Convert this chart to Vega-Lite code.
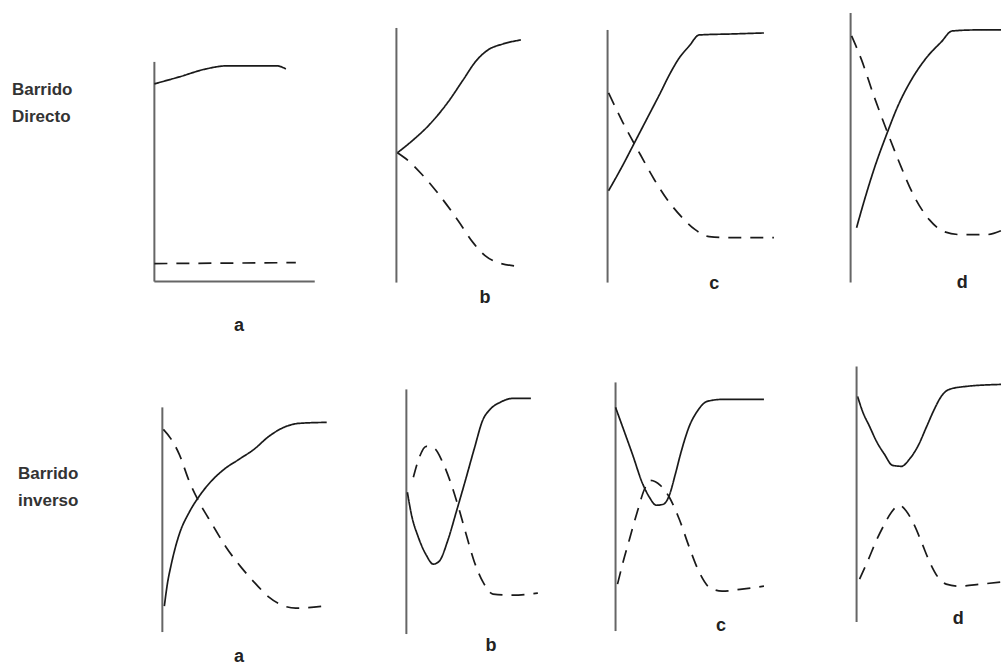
{
  "$schema": "https://vega.github.io/schema/vega-lite/v6.json",
  "autosize": {"type": "fit", "contains": "padding"},
  "width": 1005,
  "height": 666,
  "padding": 0,
  "background": "white",
  "config": {"view": {"stroke": null}},
  "datasets": {
    "curvas": [
      {"curva": "Directo-a-continuo", "trazo": "continuo", "x": 155, "y": 84},
      {"curva": "Directo-a-continuo", "trazo": "continuo", "x": 180, "y": 77},
      {"curva": "Directo-a-continuo", "trazo": "continuo", "x": 207, "y": 69},
      {"curva": "Directo-a-continuo", "trazo": "continuo", "x": 227, "y": 66},
      {"curva": "Directo-a-continuo", "trazo": "continuo", "x": 278, "y": 66},
      {"curva": "Directo-a-continuo", "trazo": "continuo", "x": 287, "y": 69},
      {"curva": "Directo-a-discontinuo", "trazo": "discontinuo", "x": 155, "y": 264},
      {"curva": "Directo-a-discontinuo", "trazo": "discontinuo", "x": 297, "y": 263},

      {"curva": "Directo-b-continuo", "trazo": "continuo", "x": 399, "y": 153},
      {"curva": "Directo-b-continuo", "trazo": "continuo", "x": 415, "y": 140},
      {"curva": "Directo-b-continuo", "trazo": "continuo", "x": 430, "y": 126},
      {"curva": "Directo-b-continuo", "trazo": "continuo", "x": 450, "y": 102},
      {"curva": "Directo-b-continuo", "trazo": "continuo", "x": 465, "y": 80},
      {"curva": "Directo-b-continuo", "trazo": "continuo", "x": 478, "y": 61},
      {"curva": "Directo-b-continuo", "trazo": "continuo", "x": 490, "y": 50},
      {"curva": "Directo-b-continuo", "trazo": "continuo", "x": 505, "y": 44},
      {"curva": "Directo-b-continuo", "trazo": "continuo", "x": 523, "y": 40},
      {"curva": "Directo-b-discontinuo", "trazo": "discontinuo", "x": 399, "y": 153},
      {"curva": "Directo-b-discontinuo", "trazo": "discontinuo", "x": 410, "y": 161},
      {"curva": "Directo-b-discontinuo", "trazo": "discontinuo", "x": 423, "y": 174},
      {"curva": "Directo-b-discontinuo", "trazo": "discontinuo", "x": 440, "y": 194},
      {"curva": "Directo-b-discontinuo", "trazo": "discontinuo", "x": 460, "y": 221},
      {"curva": "Directo-b-discontinuo", "trazo": "discontinuo", "x": 475, "y": 243},
      {"curva": "Directo-b-discontinuo", "trazo": "discontinuo", "x": 487, "y": 256},
      {"curva": "Directo-b-discontinuo", "trazo": "discontinuo", "x": 500, "y": 263},
      {"curva": "Directo-b-discontinuo", "trazo": "discontinuo", "x": 525, "y": 267},

      {"curva": "Directo-c-continuo", "trazo": "continuo", "x": 611, "y": 191},
      {"curva": "Directo-c-continuo", "trazo": "continuo", "x": 625, "y": 166},
      {"curva": "Directo-c-continuo", "trazo": "continuo", "x": 637, "y": 143},
      {"curva": "Directo-c-continuo", "trazo": "continuo", "x": 650, "y": 118},
      {"curva": "Directo-c-continuo", "trazo": "continuo", "x": 663, "y": 93},
      {"curva": "Directo-c-continuo", "trazo": "continuo", "x": 672, "y": 75},
      {"curva": "Directo-c-continuo", "trazo": "continuo", "x": 682, "y": 58},
      {"curva": "Directo-c-continuo", "trazo": "continuo", "x": 692, "y": 46},
      {"curva": "Directo-c-continuo", "trazo": "continuo", "x": 702, "y": 35},
      {"curva": "Directo-c-continuo", "trazo": "continuo", "x": 735, "y": 34},
      {"curva": "Directo-c-continuo", "trazo": "continuo", "x": 767, "y": 33},
      {"curva": "Directo-c-discontinuo", "trazo": "discontinuo", "x": 611, "y": 93},
      {"curva": "Directo-c-discontinuo", "trazo": "discontinuo", "x": 625, "y": 122},
      {"curva": "Directo-c-discontinuo", "trazo": "discontinuo", "x": 643, "y": 155},
      {"curva": "Directo-c-discontinuo", "trazo": "discontinuo", "x": 657, "y": 180},
      {"curva": "Directo-c-discontinuo", "trazo": "discontinuo", "x": 670, "y": 200},
      {"curva": "Directo-c-discontinuo", "trazo": "discontinuo", "x": 685, "y": 218},
      {"curva": "Directo-c-discontinuo", "trazo": "discontinuo", "x": 698, "y": 230},
      {"curva": "Directo-c-discontinuo", "trazo": "discontinuo", "x": 712, "y": 237},
      {"curva": "Directo-c-discontinuo", "trazo": "discontinuo", "x": 730, "y": 238},
      {"curva": "Directo-c-discontinuo", "trazo": "discontinuo", "x": 777, "y": 238},

      {"curva": "Directo-d-continuo", "trazo": "continuo", "x": 860, "y": 228},
      {"curva": "Directo-d-continuo", "trazo": "continuo", "x": 868, "y": 200},
      {"curva": "Directo-d-continuo", "trazo": "continuo", "x": 878, "y": 168},
      {"curva": "Directo-d-continuo", "trazo": "continuo", "x": 890, "y": 135},
      {"curva": "Directo-d-continuo", "trazo": "continuo", "x": 902, "y": 105},
      {"curva": "Directo-d-continuo", "trazo": "continuo", "x": 915, "y": 80},
      {"curva": "Directo-d-continuo", "trazo": "continuo", "x": 930, "y": 58},
      {"curva": "Directo-d-continuo", "trazo": "continuo", "x": 945, "y": 42},
      {"curva": "Directo-d-continuo", "trazo": "continuo", "x": 956, "y": 31},
      {"curva": "Directo-d-continuo", "trazo": "continuo", "x": 980, "y": 30},
      {"curva": "Directo-d-continuo", "trazo": "continuo", "x": 1005, "y": 30},
      {"curva": "Directo-d-discontinuo", "trazo": "discontinuo", "x": 855, "y": 36},
      {"curva": "Directo-d-discontinuo", "trazo": "discontinuo", "x": 865, "y": 60},
      {"curva": "Directo-d-discontinuo", "trazo": "discontinuo", "x": 877, "y": 95},
      {"curva": "Directo-d-discontinuo", "trazo": "discontinuo", "x": 890, "y": 130},
      {"curva": "Directo-d-discontinuo", "trazo": "discontinuo", "x": 903, "y": 163},
      {"curva": "Directo-d-discontinuo", "trazo": "discontinuo", "x": 918, "y": 197},
      {"curva": "Directo-d-discontinuo", "trazo": "discontinuo", "x": 933, "y": 220},
      {"curva": "Directo-d-discontinuo", "trazo": "discontinuo", "x": 948, "y": 232},
      {"curva": "Directo-d-discontinuo", "trazo": "discontinuo", "x": 965, "y": 235},
      {"curva": "Directo-d-discontinuo", "trazo": "discontinuo", "x": 990, "y": 235},
      {"curva": "Directo-d-discontinuo", "trazo": "discontinuo", "x": 1005, "y": 231},

      {"curva": "inverso-a-continuo", "trazo": "continuo", "x": 165, "y": 607},
      {"curva": "inverso-a-continuo", "trazo": "continuo", "x": 168, "y": 585},
      {"curva": "inverso-a-continuo", "trazo": "continuo", "x": 172, "y": 565},
      {"curva": "inverso-a-continuo", "trazo": "continuo", "x": 180, "y": 535},
      {"curva": "inverso-a-continuo", "trazo": "continuo", "x": 190, "y": 513},
      {"curva": "inverso-a-continuo", "trazo": "continuo", "x": 200, "y": 497},
      {"curva": "inverso-a-continuo", "trazo": "continuo", "x": 212, "y": 482},
      {"curva": "inverso-a-continuo", "trazo": "continuo", "x": 225, "y": 470},
      {"curva": "inverso-a-continuo", "trazo": "continuo", "x": 240, "y": 460},
      {"curva": "inverso-a-continuo", "trazo": "continuo", "x": 255, "y": 450},
      {"curva": "inverso-a-continuo", "trazo": "continuo", "x": 270, "y": 437},
      {"curva": "inverso-a-continuo", "trazo": "continuo", "x": 285, "y": 428},
      {"curva": "inverso-a-continuo", "trazo": "continuo", "x": 300, "y": 424},
      {"curva": "inverso-a-continuo", "trazo": "continuo", "x": 328, "y": 423},
      {"curva": "inverso-a-discontinuo", "trazo": "discontinuo", "x": 164, "y": 430},
      {"curva": "inverso-a-discontinuo", "trazo": "discontinuo", "x": 172, "y": 440},
      {"curva": "inverso-a-discontinuo", "trazo": "discontinuo", "x": 180, "y": 455},
      {"curva": "inverso-a-discontinuo", "trazo": "discontinuo", "x": 190, "y": 482},
      {"curva": "inverso-a-discontinuo", "trazo": "discontinuo", "x": 200, "y": 503},
      {"curva": "inverso-a-discontinuo", "trazo": "discontinuo", "x": 213, "y": 525},
      {"curva": "inverso-a-discontinuo", "trazo": "discontinuo", "x": 227, "y": 548},
      {"curva": "inverso-a-discontinuo", "trazo": "discontinuo", "x": 242, "y": 568},
      {"curva": "inverso-a-discontinuo", "trazo": "discontinuo", "x": 257, "y": 585},
      {"curva": "inverso-a-discontinuo", "trazo": "discontinuo", "x": 270, "y": 598},
      {"curva": "inverso-a-discontinuo", "trazo": "discontinuo", "x": 283, "y": 606},
      {"curva": "inverso-a-discontinuo", "trazo": "discontinuo", "x": 297, "y": 609},
      {"curva": "inverso-a-discontinuo", "trazo": "discontinuo", "x": 325, "y": 607},

      {"curva": "inverso-b-continuo", "trazo": "continuo", "x": 409, "y": 493},
      {"curva": "inverso-b-continuo", "trazo": "continuo", "x": 413, "y": 515},
      {"curva": "inverso-b-continuo", "trazo": "continuo", "x": 420, "y": 538},
      {"curva": "inverso-b-continuo", "trazo": "continuo", "x": 428, "y": 556},
      {"curva": "inverso-b-continuo", "trazo": "continuo", "x": 435, "y": 565},
      {"curva": "inverso-b-continuo", "trazo": "continuo", "x": 441, "y": 562},
      {"curva": "inverso-b-continuo", "trazo": "continuo", "x": 450, "y": 540},
      {"curva": "inverso-b-continuo", "trazo": "continuo", "x": 458, "y": 513},
      {"curva": "inverso-b-continuo", "trazo": "continuo", "x": 467, "y": 482},
      {"curva": "inverso-b-continuo", "trazo": "continuo", "x": 476, "y": 450},
      {"curva": "inverso-b-continuo", "trazo": "continuo", "x": 485, "y": 420},
      {"curva": "inverso-b-continuo", "trazo": "continuo", "x": 492, "y": 410},
      {"curva": "inverso-b-continuo", "trazo": "continuo", "x": 502, "y": 403},
      {"curva": "inverso-b-continuo", "trazo": "continuo", "x": 515, "y": 399},
      {"curva": "inverso-b-continuo", "trazo": "continuo", "x": 533, "y": 399},
      {"curva": "inverso-b-discontinuo", "trazo": "discontinuo", "x": 415, "y": 478},
      {"curva": "inverso-b-discontinuo", "trazo": "discontinuo", "x": 421, "y": 458},
      {"curva": "inverso-b-discontinuo", "trazo": "discontinuo", "x": 428, "y": 447},
      {"curva": "inverso-b-discontinuo", "trazo": "discontinuo", "x": 436, "y": 449},
      {"curva": "inverso-b-discontinuo", "trazo": "discontinuo", "x": 444, "y": 462},
      {"curva": "inverso-b-discontinuo", "trazo": "discontinuo", "x": 452, "y": 482},
      {"curva": "inverso-b-discontinuo", "trazo": "discontinuo", "x": 460, "y": 507},
      {"curva": "inverso-b-discontinuo", "trazo": "discontinuo", "x": 468, "y": 535},
      {"curva": "inverso-b-discontinuo", "trazo": "discontinuo", "x": 476, "y": 562},
      {"curva": "inverso-b-discontinuo", "trazo": "discontinuo", "x": 485, "y": 583},
      {"curva": "inverso-b-discontinuo", "trazo": "discontinuo", "x": 495, "y": 595},
      {"curva": "inverso-b-discontinuo", "trazo": "discontinuo", "x": 515, "y": 596},
      {"curva": "inverso-b-discontinuo", "trazo": "discontinuo", "x": 540, "y": 594},

      {"curva": "inverso-c-continuo", "trazo": "continuo", "x": 618, "y": 408},
      {"curva": "inverso-c-continuo", "trazo": "continuo", "x": 626, "y": 430},
      {"curva": "inverso-c-continuo", "trazo": "continuo", "x": 635, "y": 455},
      {"curva": "inverso-c-continuo", "trazo": "continuo", "x": 645, "y": 484},
      {"curva": "inverso-c-continuo", "trazo": "continuo", "x": 652, "y": 498},
      {"curva": "inverso-c-continuo", "trazo": "continuo", "x": 659, "y": 506},
      {"curva": "inverso-c-continuo", "trazo": "continuo", "x": 666, "y": 505},
      {"curva": "inverso-c-continuo", "trazo": "continuo", "x": 672, "y": 496},
      {"curva": "inverso-c-continuo", "trazo": "continuo", "x": 678, "y": 475},
      {"curva": "inverso-c-continuo", "trazo": "continuo", "x": 684, "y": 452},
      {"curva": "inverso-c-continuo", "trazo": "continuo", "x": 692, "y": 427},
      {"curva": "inverso-c-continuo", "trazo": "continuo", "x": 700, "y": 412},
      {"curva": "inverso-c-continuo", "trazo": "continuo", "x": 710, "y": 402},
      {"curva": "inverso-c-continuo", "trazo": "continuo", "x": 725, "y": 400},
      {"curva": "inverso-c-continuo", "trazo": "continuo", "x": 767, "y": 400},
      {"curva": "inverso-c-discontinuo", "trazo": "discontinuo", "x": 620, "y": 585},
      {"curva": "inverso-c-discontinuo", "trazo": "discontinuo", "x": 625, "y": 565},
      {"curva": "inverso-c-discontinuo", "trazo": "discontinuo", "x": 632, "y": 540},
      {"curva": "inverso-c-discontinuo", "trazo": "discontinuo", "x": 640, "y": 512},
      {"curva": "inverso-c-discontinuo", "trazo": "discontinuo", "x": 647, "y": 490},
      {"curva": "inverso-c-discontinuo", "trazo": "discontinuo", "x": 653, "y": 481},
      {"curva": "inverso-c-discontinuo", "trazo": "discontinuo", "x": 663, "y": 486},
      {"curva": "inverso-c-discontinuo", "trazo": "discontinuo", "x": 672, "y": 498},
      {"curva": "inverso-c-discontinuo", "trazo": "discontinuo", "x": 682, "y": 520},
      {"curva": "inverso-c-discontinuo", "trazo": "discontinuo", "x": 692, "y": 548},
      {"curva": "inverso-c-discontinuo", "trazo": "discontinuo", "x": 702, "y": 573},
      {"curva": "inverso-c-discontinuo", "trazo": "discontinuo", "x": 712, "y": 588},
      {"curva": "inverso-c-discontinuo", "trazo": "discontinuo", "x": 725, "y": 592},
      {"curva": "inverso-c-discontinuo", "trazo": "discontinuo", "x": 745, "y": 590},
      {"curva": "inverso-c-discontinuo", "trazo": "discontinuo", "x": 767, "y": 587},

      {"curva": "inverso-d-continuo", "trazo": "continuo", "x": 861, "y": 397},
      {"curva": "inverso-d-continuo", "trazo": "continuo", "x": 866, "y": 412},
      {"curva": "inverso-d-continuo", "trazo": "continuo", "x": 873, "y": 427},
      {"curva": "inverso-d-continuo", "trazo": "continuo", "x": 880, "y": 442},
      {"curva": "inverso-d-continuo", "trazo": "continuo", "x": 888, "y": 455},
      {"curva": "inverso-d-continuo", "trazo": "continuo", "x": 896, "y": 466},
      {"curva": "inverso-d-continuo", "trazo": "continuo", "x": 905, "y": 467},
      {"curva": "inverso-d-continuo", "trazo": "continuo", "x": 913, "y": 460},
      {"curva": "inverso-d-continuo", "trazo": "continuo", "x": 922, "y": 446},
      {"curva": "inverso-d-continuo", "trazo": "continuo", "x": 930, "y": 428},
      {"curva": "inverso-d-continuo", "trazo": "continuo", "x": 938, "y": 410},
      {"curva": "inverso-d-continuo", "trazo": "continuo", "x": 945, "y": 397},
      {"curva": "inverso-d-continuo", "trazo": "continuo", "x": 953, "y": 390},
      {"curva": "inverso-d-continuo", "trazo": "continuo", "x": 970, "y": 387},
      {"curva": "inverso-d-continuo", "trazo": "continuo", "x": 1005, "y": 385},
      {"curva": "inverso-d-discontinuo", "trazo": "discontinuo", "x": 863, "y": 580},
      {"curva": "inverso-d-discontinuo", "trazo": "discontinuo", "x": 872, "y": 560},
      {"curva": "inverso-d-discontinuo", "trazo": "discontinuo", "x": 880, "y": 541},
      {"curva": "inverso-d-discontinuo", "trazo": "discontinuo", "x": 888, "y": 525},
      {"curva": "inverso-d-discontinuo", "trazo": "discontinuo", "x": 895, "y": 513},
      {"curva": "inverso-d-discontinuo", "trazo": "discontinuo", "x": 903, "y": 506},
      {"curva": "inverso-d-discontinuo", "trazo": "discontinuo", "x": 910, "y": 512},
      {"curva": "inverso-d-discontinuo", "trazo": "discontinuo", "x": 918, "y": 526},
      {"curva": "inverso-d-discontinuo", "trazo": "discontinuo", "x": 926, "y": 545},
      {"curva": "inverso-d-discontinuo", "trazo": "discontinuo", "x": 933, "y": 562},
      {"curva": "inverso-d-discontinuo", "trazo": "discontinuo", "x": 941, "y": 577},
      {"curva": "inverso-d-discontinuo", "trazo": "discontinuo", "x": 950, "y": 585},
      {"curva": "inverso-d-discontinuo", "trazo": "discontinuo", "x": 963, "y": 587},
      {"curva": "inverso-d-discontinuo", "trazo": "discontinuo", "x": 985, "y": 585},
      {"curva": "inverso-d-discontinuo", "trazo": "discontinuo", "x": 1005, "y": 583}
    ],
    "ejes": [
      {"panel": "Directo-a", "x": 155, "x2": 155, "y": 62, "y2": 282},
      {"panel": "Directo-a", "x": 155, "x2": 316, "y": 282, "y2": 282},
      {"panel": "Directo-b", "x": 398, "x2": 398, "y": 28, "y2": 283},
      {"panel": "Directo-c", "x": 610, "x2": 610, "y": 30, "y2": 283},
      {"panel": "Directo-d", "x": 854, "x2": 854, "y": 13, "y2": 283},
      {"panel": "inverso-a", "x": 163, "x2": 163, "y": 408, "y2": 633},
      {"panel": "inverso-b", "x": 408, "x2": 408, "y": 390, "y2": 635},
      {"panel": "inverso-c", "x": 618, "x2": 618, "y": 383, "y2": 632},
      {"panel": "inverso-d", "x": 860, "x2": 860, "y": 367, "y2": 623}
    ],
    "letras": [
      {"texto": "a", "x": 240, "y": 326},
      {"texto": "b", "x": 487, "y": 298},
      {"texto": "c", "x": 717, "y": 284},
      {"texto": "d", "x": 966, "y": 283},
      {"texto": "a", "x": 240, "y": 658},
      {"texto": "b", "x": 493, "y": 647},
      {"texto": "c", "x": 724, "y": 627},
      {"texto": "d", "x": 962, "y": 620}
    ],
    "filas": [
      {"texto": "Barrido", "x": 12, "y": 90},
      {"texto": "Directo", "x": 12, "y": 117},
      {"texto": "Barrido", "x": 18, "y": 475},
      {"texto": "inverso", "x": 18, "y": 502}
    ]
  },
  "layer": [
    {
      "data": {"name": "ejes"},
      "mark": {"type": "rule", "color": "#666666", "strokeWidth": 2},
      "encoding": {
        "x": {"field": "x", "type": "quantitative", "scale": {"domain": [0, 1005], "nice": false, "zero": false}, "axis": null},
        "x2": {"field": "x2"},
        "y": {"field": "y", "type": "quantitative", "scale": {"domain": [0, 666], "nice": false, "zero": false, "reverse": true}, "axis": null},
        "y2": {"field": "y2"}
      }
    },
    {
      "data": {"name": "curvas"},
      "mark": {"type": "line", "interpolate": "monotone", "color": "#1a1a1a", "strokeWidth": 1.7},
      "encoding": {
        "x": {"field": "x", "type": "quantitative", "axis": null},
        "y": {"field": "y", "type": "quantitative", "axis": null},
        "detail": {"field": "curva", "type": "nominal"},
        "strokeDash": {
          "field": "trazo",
          "type": "nominal",
          "scale": {"domain": ["continuo", "discontinuo"], "range": [[1, 0], [13, 9]]},
          "legend": null
        }
      }
    },
    {
      "data": {"name": "letras"},
      "mark": {"type": "text", "font": "Liberation Sans, Arial, sans-serif", "fontWeight": "bold", "fontSize": 18, "color": "#222222", "align": "center", "baseline": "middle"},
      "encoding": {
        "x": {"field": "x", "type": "quantitative", "axis": null},
        "y": {"field": "y", "type": "quantitative", "axis": null},
        "text": {"field": "texto", "type": "nominal"}
      }
    },
    {
      "data": {"name": "filas"},
      "mark": {"type": "text", "font": "Liberation Sans, Arial, sans-serif", "fontWeight": "bold", "fontSize": 17, "color": "#333333", "align": "left", "baseline": "middle"},
      "encoding": {
        "x": {"field": "x", "type": "quantitative", "axis": null},
        "y": {"field": "y", "type": "quantitative", "axis": null},
        "text": {"field": "texto", "type": "nominal"}
      }
    }
  ]
}
